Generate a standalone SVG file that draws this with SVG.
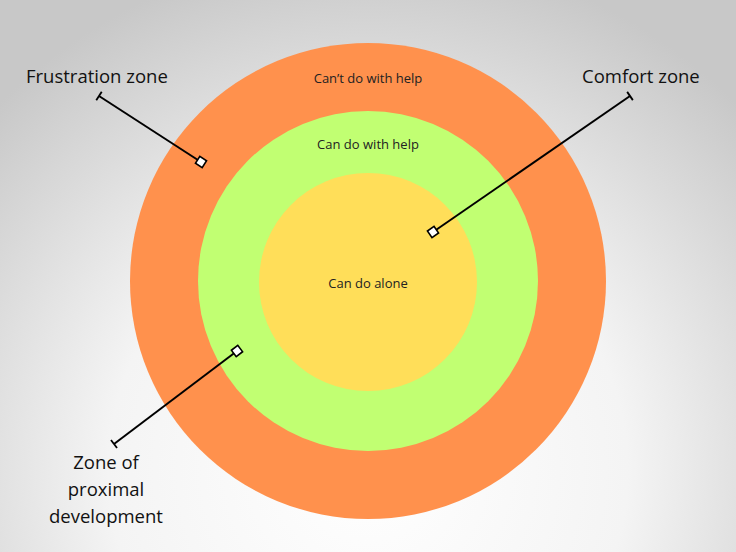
<svg xmlns="http://www.w3.org/2000/svg" width="736" height="552" viewBox="0 0 736 552">
<defs>
<radialGradient id="bg" cx="368" cy="470" r="520" gradientUnits="userSpaceOnUse">
<stop offset="0" stop-color="#ffffff"/><stop offset="0.5" stop-color="#f4f4f4"/><stop offset="1" stop-color="#c8c8c8"/>
</radialGradient>
<marker id="sq" markerWidth="12" markerHeight="12" refX="6" refY="6" orient="auto" markerUnits="userSpaceOnUse">
<rect x="2" y="2" width="8" height="8" fill="#fff" stroke="#000" stroke-width="1.6"/>
</marker>
<marker id="tk" markerWidth="12" markerHeight="12" refX="6" refY="6" orient="auto" markerUnits="userSpaceOnUse">
<line x1="6" y1="1" x2="6" y2="11" stroke="#000" stroke-width="1.8"/>
</marker>
</defs>
<style>
.lbl{font-family:"Open Sans","Liberation Sans",sans-serif;font-size:18.5px;fill:#111}
.in{font-family:"Open Sans","Liberation Sans",sans-serif;font-size:13px;fill:#222;text-anchor:middle}
.c{stroke:#000;stroke-width:2;fill:none;marker-start:url(#tk);marker-end:url(#sq)}
</style>
<rect width="736" height="552" fill="url(#bg)"/>
<g id="outer"><circle cx="368" cy="281" r="238" fill="#FF914D"/><text class="in" x="368" y="83">Can’t do with help</text></g>
<g id="middle"><circle cx="368" cy="281" r="170" fill="#C1FF72"/><text class="in" x="368" y="149">Can do with help</text></g>
<g id="inner"><circle cx="368" cy="282" r="109" fill="#FFDE59"/><text class="in" x="368" y="288">Can do alone</text></g>
<g id="connectors">
<line class="c" x1="99" y1="96" x2="201" y2="162"/>
<line class="c" x1="630" y1="96" x2="433" y2="232"/>
<line class="c" x1="114" y1="444" x2="237" y2="351"/>
</g>
<g id="frustration"><text class="lbl" x="26" y="83">Frustration zone</text></g>
<g id="comfort"><text class="lbl" x="582" y="83">Comfort zone</text></g>
<g id="zpd"><text class="lbl" x="106" y="469" text-anchor="middle">Zone of<tspan x="106" dy="27">proximal</tspan><tspan x="106" dy="27">development</tspan></text></g>
</svg>
